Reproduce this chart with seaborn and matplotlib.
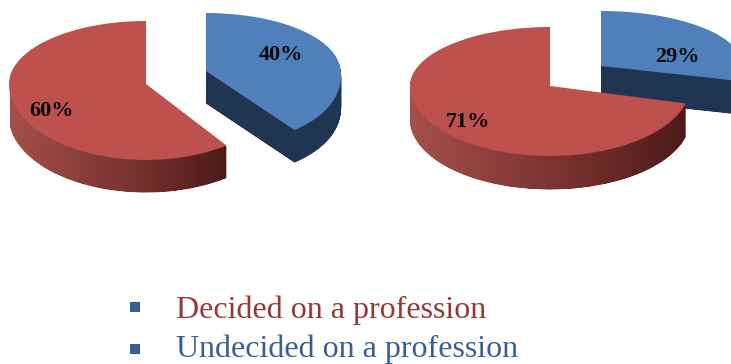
import numpy as np
import matplotlib
matplotlib.use("Agg")
import matplotlib.pyplot as plt
from matplotlib.colors import LinearSegmentedColormap
from matplotlib.patches import PathPatch
from matplotlib.path import Path
import seaborn as sns

categories = ["Decided on a profession", "Undecided on a profession"]
left_decided, left_undecided = 60, 40
right_decided, right_undecided = 71, 29

sns.set_theme(style="white")
plt.rcParams["font.family"] = ["Liberation Serif", "DejaVu Serif"]

RED, BLUE = "#BE504D", "#4F80BB"
BLUE_WALL = "#1F3552"
TEXT_COLORS = ["#953735", "#366092"]
red_wall = LinearSegmentedColormap.from_list("w", ["#A64E4A", "#8A3E3B", "#6E2C2A", "#4B1B19"])

fig = plt.figure(figsize=(7.31, 3.64), dpi=100)
ax = fig.add_axes([0, 0, 1, 1])


def project(path, geo, dy=0.0):
    """Map a unit-circle wedge to the tilted disc in pixel coordinates."""
    cx, cy, rx, up, down, shear = geo
    v = path.vertices
    x = cx + rx * v[:, 0] + shear * np.minimum(v[:, 1], 0) * -1
    y = cy + dy - np.where(v[:, 1] > 0, up, down) * v[:, 1]
    return Path(np.column_stack([x, y]), path.codes)


def draw_pie(undecided, decided, geo_blue, geo_red, depth, grad):
    wedges, _ = ax.pie([undecided, decided], startangle=90, counterclock=False,
                       colors=[BLUE, RED], radius=1, wedgeprops={"linewidth": 0})
    for w, geo, is_red in ((wedges[0], geo_blue, False), (wedges[1], geo_red, True)):
        base = Path(w.get_path().vertices.copy(), w.get_path().codes.copy())
        layers = [project(base, geo, d) for d in np.arange(1, depth + 1, 0.5)]
        compound = Path.make_compound_path(*layers)
        if is_red:
            im = ax.imshow(np.linspace(0, 1, 256)[None, :], cmap=red_wall, aspect="auto",
                           extent=(grad[0], grad[1], 364, 0), zorder=4)
            im.set_clip_path(compound, transform=ax.transData)
        else:
            ax.add_patch(PathPatch(compound, fc=BLUE_WALL, ec=BLUE_WALL, lw=0, zorder=2))
        w.get_path().vertices = project(base, geo).vertices
        w.set_zorder(5 if is_red else 3)
        w.set_clip_on(True)
        w.set_clip_box(ax.bbox)


draw_pie(left_undecided, left_decided,
         (206, 71, 134, 58, 73, 12), (146, 84, 137, 63, 76, 0), 32, (10, 228))
draw_pie(right_undecided, right_decided,
         (601, 66, 142, 55, 60, 0), (550, 86, 140, 59, 70, 0), 33, (410, 686))

ax.set_aspect("auto")
ax.axis("off")

label_values = [left_decided, left_undecided, right_decided, right_undecided]
for v, x, y in zip(label_values, (51, 281, 468, 677), (111, 55, 122, 57)):
    ax.text(x, y, f"{v}%", ha="center", va="center", fontsize=16, fontweight="bold",
            color="#0A0A0A", zorder=10)

for name, col, yb in zip(categories, TEXT_COLORS, (318, 357)):
    ax.text(176, yb, name, ha="left", va="baseline", fontsize=23, color=col, zorder=10)
sns.scatterplot(x=[135, 135], y=[306.5, 348.5], marker="s", s=62, color="#366092",
                linewidth=0, ax=ax, legend=False, zorder=10)

ax.set_xlim(0, 731)
ax.set_ylim(364, 0)
fig.savefig("out.png", dpi=100, facecolor="white")
